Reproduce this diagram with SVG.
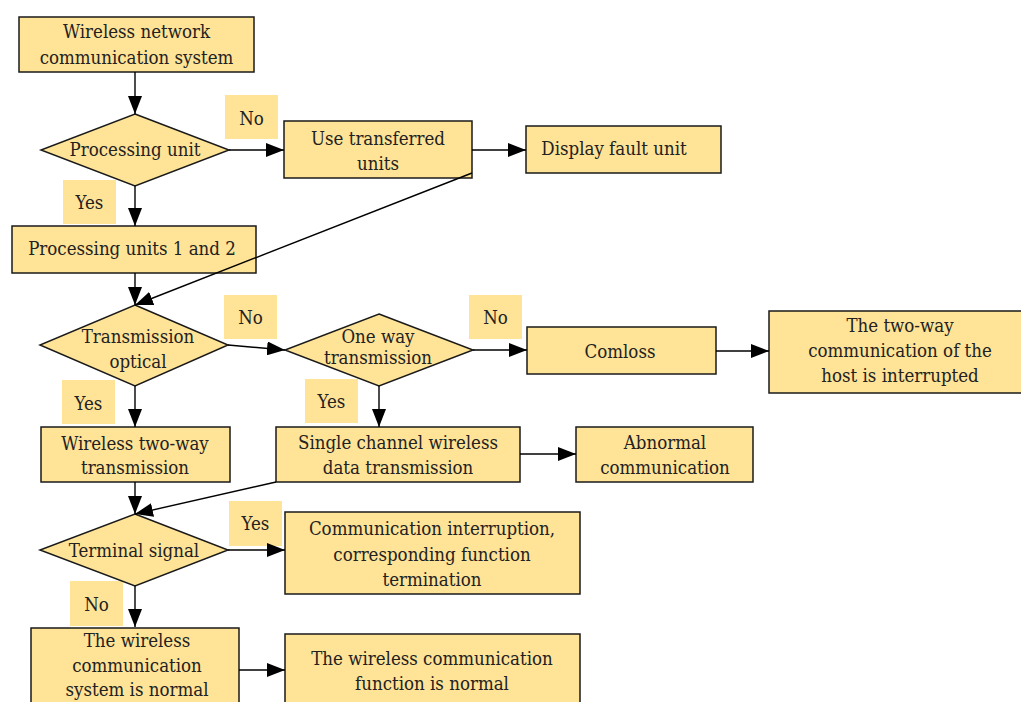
<svg xmlns="http://www.w3.org/2000/svg" width="1021" height="702" viewBox="0 0 1021 702">
<style>
.box{fill:#FFE396;stroke:#1a1a1a;stroke-width:1.5}
.lbl{fill:#FFE396;stroke:none}
text{font-family:"DejaVu Serif Condensed","DejaVu Serif",serif;font-stretch:condensed;font-size:18.5px;fill:#222;text-anchor:middle}
.edge{stroke:#000;stroke-width:1.4;fill:none;marker-end:url(#ah)}
</style>
<defs>
<marker id="ah" markerUnits="userSpaceOnUse" markerWidth="18" markerHeight="14" refX="18" refY="7" orient="auto">
<path d="M0,0 L18,7 L0,14 z" fill="#000"/>
</marker>
</defs>
<rect width="1021" height="702" fill="#fff"/>
<g id="labels">
<rect class="lbl" x="225" y="95" width="53" height="44"/><text x="251.5" y="125">No</text>
<rect class="lbl" x="63" y="180" width="53" height="44"/><text x="89.5" y="209">Yes</text>
<rect class="lbl" x="224" y="295" width="53" height="44"/><text x="250.5" y="324">No</text>
<rect class="lbl" x="469" y="295" width="53" height="44"/><text x="495.5" y="324">No</text>
<rect class="lbl" x="62" y="380" width="53" height="44"/><text x="88.5" y="410">Yes</text>
<rect class="lbl" x="305" y="379" width="53" height="44"/><text x="331.5" y="408">Yes</text>
<rect class="lbl" x="229" y="501" width="53" height="45"/><text x="255.5" y="530">Yes</text>
<rect class="lbl" x="70" y="581" width="53" height="45"/><text x="96.5" y="611">No</text>
</g>
<g id="n1"><rect class="box" x="19" y="17" width="235" height="55"/><text x="136.5" y="38">Wireless network</text><text x="136.5" y="64">communication system</text></g>
<g id="n2"><polygon class="box" points="135,114 229,150 135,186 41,150"/><text x="135" y="156">Processing unit</text></g>
<g id="n3"><rect class="box" x="284" y="121" width="188" height="57"/><text x="378" y="145">Use transferred</text><text x="378" y="170">units</text></g>
<g id="n4"><rect class="box" x="526" y="126" width="195" height="47"/><text x="614" y="155">Display fault unit</text></g>
<g id="n5"><rect class="box" x="12" y="226" width="244" height="47"/><text x="132" y="255">Processing units 1 and 2</text></g>
<g id="n6"><polygon class="box" points="135,305 228,345 135,386 40,345"/><text x="138" y="343">Transmission</text><text x="138" y="368">optical</text></g>
<g id="n7"><polygon class="box" points="379,314 473,350 379,386 285,350"/><text x="378" y="343">One way</text><text x="378" y="364">transmission</text></g>
<g id="n8"><rect class="box" x="527" y="327" width="189" height="47"/><text x="620" y="358">Comloss</text></g>
<g id="n9"><rect class="box" x="769" y="311" width="254" height="82"/><text x="900" y="332">The two-way</text><text x="900" y="357">communication of the</text><text x="900" y="382">host is interrupted</text></g>
<g id="n10"><rect class="box" x="41" y="427" width="189" height="55"/><text x="135" y="450">Wireless two-way</text><text x="135" y="474">transmission</text></g>
<g id="n11"><rect class="box" x="276" y="427" width="244" height="55"/><text x="398" y="449">Single channel wireless</text><text x="398" y="474">data transmission</text></g>
<g id="n12"><rect class="box" x="576" y="427" width="177" height="55"/><text x="665" y="449">Abnormal</text><text x="665" y="474">communication</text></g>
<g id="n13"><polygon class="box" points="135,514 228,550 135,586 40,550"/><text x="134" y="557">Terminal signal</text></g>
<g id="n14"><rect class="box" x="285" y="512" width="295" height="82"/><text x="432" y="535">Communication interruption,</text><text x="432" y="561">corresponding function</text><text x="432" y="586">termination</text></g>
<g id="n15"><rect class="box" x="31" y="628" width="208" height="80"/><text x="137" y="647">The wireless</text><text x="137" y="672">communication</text><text x="137" y="696">system is normal</text></g>
<g id="n16"><rect class="box" x="285" y="634" width="295" height="74"/><text x="432" y="665">The wireless communication</text><text x="432" y="690">function is normal</text></g>
<g id="connectors">
<line class="edge" x1="135" y1="72" x2="135" y2="114"/>
<line class="edge" x1="229" y1="150" x2="284" y2="150"/>
<line class="edge" x1="472" y1="150" x2="526" y2="150"/>
<line class="edge" x1="135" y1="186" x2="135" y2="226"/>
<line class="edge" x1="135" y1="273" x2="135" y2="305"/>
<line class="edge" x1="472" y1="173" x2="135" y2="305"/>
<line class="edge" x1="228" y1="345" x2="285" y2="350"/>
<line class="edge" x1="473" y1="350" x2="527" y2="350"/>
<line class="edge" x1="716" y1="351" x2="769" y2="351"/>
<line class="edge" x1="135" y1="386" x2="135" y2="427"/>
<line class="edge" x1="379" y1="386" x2="379" y2="427"/>
<line class="edge" x1="520" y1="454" x2="576" y2="454"/>
<line class="edge" x1="135" y1="482" x2="135" y2="514"/>
<line class="edge" x1="276" y1="482" x2="135" y2="514"/>
<line class="edge" x1="228" y1="550" x2="285" y2="550"/>
<line class="edge" x1="135" y1="586" x2="135" y2="627"/>
<line class="edge" x1="239" y1="670" x2="285" y2="670"/>
</g>
</svg>
